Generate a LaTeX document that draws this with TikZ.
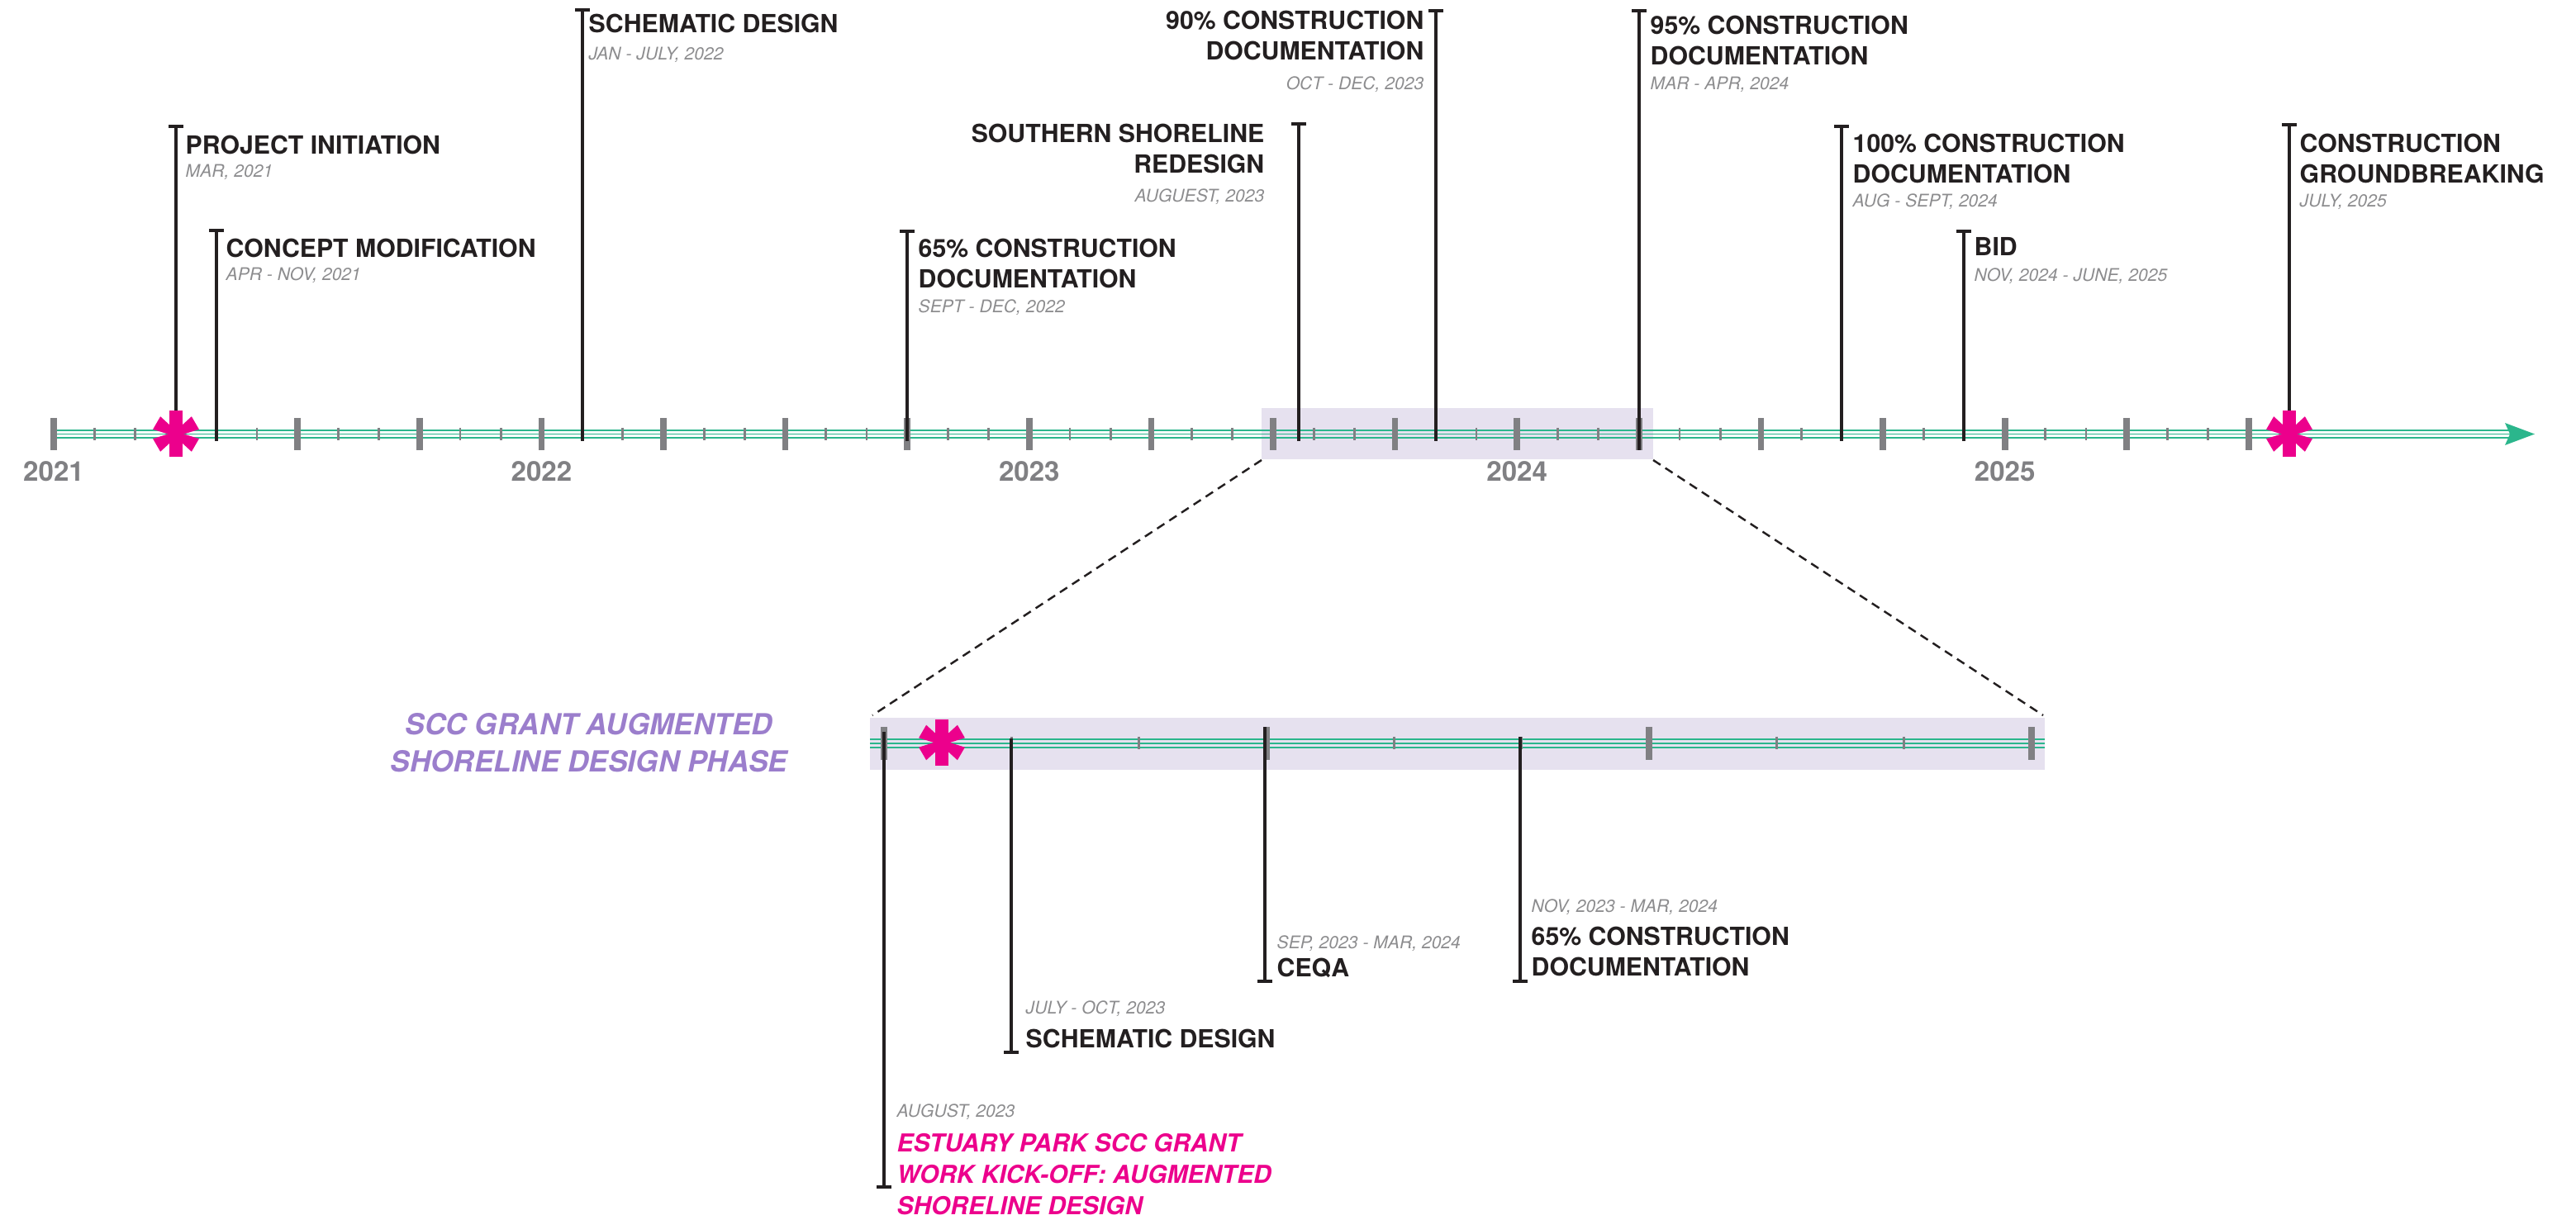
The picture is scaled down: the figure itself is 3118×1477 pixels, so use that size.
\documentclass[tikz,border=0pt]{standalone}
\usepackage{fontspec}
\setmainfont{TeX Gyre Heros}

\definecolor{ink}{RGB}{35,31,32}
\definecolor{tickgray}{RGB}{128,128,131}
\definecolor{dategray}{RGB}{140,140,142}
\definecolor{axisgreen}{RGB}{43,182,140}
\definecolor{hotpink}{RGB}{236,0,140}
\definecolor{lavender}{RGB}{230,225,239}
\definecolor{phasepurple}{RGB}{155,126,204}

\begin{document}
\begin{tikzpicture}[x = 0.01cm, y = -0.01cm,
	evtitle/.style = {font = \bfseries\fontsize{8.6}{10.8}\selectfont, text = ink, inner sep = 0pt},
	evdate/.style = {font = \itshape\fontsize{6}{7}\selectfont, text = dategray, inner sep = 0pt},
	year/.style = {font = \bfseries\fontsize{9.4}{11}\selectfont, text = tickgray, inner sep = 0pt, anchor = base},
	stalk/.style = {draw = ink, line width = 1pt},
	tcap/.style = {draw = ink, line width = 1.3pt},
	majortick/.style = {draw = tickgray, line width = 2.2pt},
	minortick/.style = {draw = tickgray, line width = 0.8pt},
	axisline/.style = {draw = axisgreen, line width = 0.55pt},
	zoomband/.style = {fill = lavender},
	guide/.style = {draw = ink, line width = 0.7pt, dash pattern = on 3pt off 2pt}]

\useasboundingbox (0, 0) rectangle (3118, 1477);

% highlighted part of the main axis and its enlargement
\fill [zoomband] (1527, 494) rectangle (2001, 556);
\fill [zoomband] (1053, 869) rectangle (2475, 932);

\coordinate (hlSW) at (1527, 557);
\coordinate (hlSE) at (2001, 557);
\coordinate (zmNW) at (1056, 866);
\coordinate (zmNE) at (2473, 866);

\draw [guide] (hlSW) -- (zmNW);
\draw [guide] (hlSE) -- (zmNE);

% main axis
\foreach \yy in {521, 525.5, 530}
	\draw [axisline] (69, \yy) -- (3040, \yy);
\fill [axisgreen] (3032, 512) -- (3068, 525.5) -- (3032, 539) -- (3038, 525.5) -- cycle;

\foreach \m in {0, ..., 54}
	\draw [minortick] ({65 + 49.2 * \m}, 518) -- ++(0, 15);
\foreach \m in {0, 3, ..., 54}
	\draw [majortick] ({65 + 49.2 * \m}, 506) -- ++(0, 39);

\foreach \yr [count = \i from 0] in {2021, ..., 2025}
	\node [year] (y\yr) at ({65 + 590.4 * \i}, 583) {\yr};

% milestones above the axis (multi-line titles sit on their last baseline)
\draw [stalk] (213, 525) -- (213, 153);
\draw [tcap] (204, 153) -- (222, 153);
\node [evtitle, anchor = base west] (initT) at (224, 187) {PROJECT INITIATION};
\node [evdate, anchor = base west] (initD) at (224, 215) {MAR, 2021};

\draw [stalk] (262, 534) -- (262, 279);
\draw [tcap] (253, 279) -- (271, 279);
\node [evtitle, anchor = base west] (conceptT) at (273, 312) {CONCEPT MODIFICATION};
\node [evdate, anchor = base west] (conceptD) at (273, 340) {APR - NOV, 2021};

\draw [stalk] (705, 534) -- (705, 12);
\draw [tcap] (696, 12) -- (714, 12);
\node [evtitle, anchor = base west] (schemT) at (712, 40) {SCHEMATIC DESIGN};
\node [evdate, anchor = base west] (schemD) at (712, 73) {JAN - JULY, 2022};

\draw [stalk] (1098, 534) -- (1098, 280);
\draw [tcap] (1089, 280) -- (1107, 280);
\node [evtitle, anchor = base west, align = left] (cdaT) at (1111, 349) {65\% CONSTRUCTION\\DOCUMENTATION};
\node [evdate, anchor = base west] (cdaD) at (1111, 379) {SEPT - DEC, 2022};

\draw [stalk] (1572, 534) -- (1572, 150);
\draw [tcap] (1563, 150) -- (1581, 150);
\node [evtitle, anchor = base east, align = right] (shoreT) at (1531, 210) {SOUTHERN SHORELINE\\REDESIGN};
\node [evdate, anchor = base east] (shoreD) at (1531, 245) {AUGUEST, 2023};

\draw [stalk] (1738, 534) -- (1738, 13);
\draw [tcap] (1729, 13) -- (1747, 13);
\node [evtitle, anchor = base east, align = right] (cdbT) at (1724, 73) {90\% CONSTRUCTION\\DOCUMENTATION};
\node [evdate, anchor = base east] (cdbD) at (1724, 109) {OCT - DEC, 2023};

\draw [stalk] (1984, 545) -- (1984, 13);
\draw [tcap] (1975, 13) -- (1993, 13);
\node [evtitle, anchor = base west, align = left] (cdcT) at (1997, 79) {95\% CONSTRUCTION\\DOCUMENTATION};
\node [evdate, anchor = base west] (cdcD) at (1997, 109) {MAR - APR, 2024};

\draw [stalk] (2229, 534) -- (2229, 153);
\draw [tcap] (2220, 153) -- (2238, 153);
\node [evtitle, anchor = base west, align = left] (cddT) at (2242, 222) {100\% CONSTRUCTION\\DOCUMENTATION};
\node [evdate, anchor = base west] (cddD) at (2242, 251) {AUG - SEPT, 2024};

\draw [stalk] (2377, 534) -- (2377, 280);
\draw [tcap] (2368, 280) -- (2386, 280);
\node [evtitle, anchor = base west] (bidT) at (2389, 310) {BID};
\node [evdate, anchor = base west] (bidD) at (2389, 341) {NOV, 2024 - JUNE, 2025};

\draw [stalk] (2771, 525) -- (2771, 151);
\draw [tcap] (2762, 151) -- (2780, 151);
\node [evtitle, anchor = base west, align = left] (groundT) at (2783, 222) {CONSTRUCTION\\GROUNDBREAKING};
\node [evdate, anchor = base west] (groundD) at (2783, 251) {JULY, 2025};

% enlarged axis
\foreach \yy in {895, 900, 905}
	\draw [axisline] (1053, \yy) -- (2475, \yy);
\foreach \m in {0, ..., 9}
	\draw [minortick] ({1070 + 154.3 * \m}, 892) -- ++(0, 15);
\foreach \m in {0, 3, ..., 9}
	\draw [majortick] ({1070 + 154.3 * \m}, 880) -- ++(0, 40);

\node [font = \bfseries\itshape\fontsize{10}{12.8}\selectfont, text = phasepurple, inner sep = 0pt, anchor = base, align = center] (phase) at (713, 935) {SCC GRANT AUGMENTED\\SHORELINE DESIGN PHASE};

% milestones below the enlarged axis
\draw [stalk] (1070, 886) -- (1070, 1437);
\draw [tcap] (1061, 1437) -- (1079, 1437);
\node [evdate, anchor = base west] (kickD) at (1085, 1352) {AUGUST, 2023};
\node [evtitle, font = \bfseries\itshape\fontsize{8.5}{10.7}\selectfont, text = hotpink, anchor = base west, align = left] (kickT) at (1085, 1470) {ESTUARY PARK SCC GRANT\\WORK KICK-OFF: AUGMENTED\\SHORELINE DESIGN};

\draw [stalk] (1224, 894) -- (1224, 1274);
\draw [tcap] (1215, 1274) -- (1233, 1274);
\node [evdate, anchor = base west] (sdD) at (1241, 1228) {JULY - OCT, 2023};
\node [evtitle, anchor = base west] (sdT) at (1241, 1268) {SCHEMATIC DESIGN};

\draw [stalk] (1531, 880) -- (1531, 1188);
\draw [tcap] (1522, 1188) -- (1540, 1188);
\node [evdate, anchor = base west] (ceqaD) at (1545, 1149) {SEP, 2023 - MAR, 2024};
\node [evtitle, anchor = base west] (ceqaT) at (1545, 1183) {CEQA};

\draw [stalk] (1840, 892) -- (1840, 1188);
\draw [tcap] (1831, 1188) -- (1849, 1188);
\node [evdate, anchor = base west] (cdeD) at (1853, 1105) {NOV, 2023 - MAR, 2024};
\node [evtitle, anchor = base west, align = left] (cdeT) at (1853, 1182) {65\% CONSTRUCTION\\DOCUMENTATION};

% asterisks
\foreach \cx/\cy in {213/525.5, 2771/525.5, 1140/899} {
	\fill [hotpink] (\cx - 8, \cy - 28) rectangle (\cx + 8, \cy + 28);
	\foreach \a in {30, 150, 210, 330}
		\fill [hotpink, shift = {(\cx, \cy)}, rotate = \a] (0, -3) -- (27, -9) -- (27, 9) -- (0, 3) -- cycle;
}

\end{tikzpicture}
\end{document}
